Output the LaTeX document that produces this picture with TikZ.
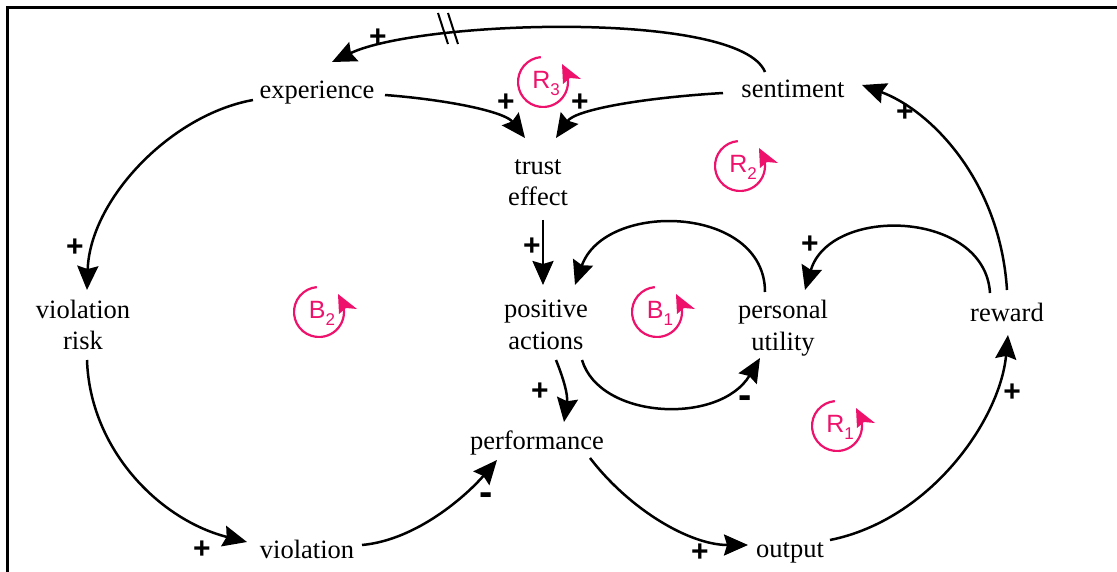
\documentclass[tikz,border=0pt]{standalone}
\usepackage{fontspec}
\setmainfont{Liberation Serif}
\newfontfamily\signfont{Liberation Sans}
\usetikzlibrary{arrows.meta}
\definecolor{looppink}{RGB}{238,18,108}

% loop marker: name, centre, letter, index
\newcommand\fbloop[4]{%
  \coordinate (#1) at #2;
  \node[looplabel] (#1-text) at ([shift={(3,-1)}]#1)
    {#3\raisebox{-7pt}{\fontsize{17}{17}\selectfont #4}};
  \draw[loopline] ([shift={(95:25)}]#1) arc[start angle=95,end angle=368,radius=25];
  \fill[looppink] ([shift={(19,18)}]#1) -- ([shift={(38,3)}]#1) -- ([shift={(27,4)}]#1)
    -- ([shift={(20,-2)}]#1) -- cycle;
}

\begin{document}
\begin{tikzpicture}[x=1pt,y=1pt,
  var/.style={font=\fontsize{26.5}{31.5}\selectfont, align=center, inner sep=0pt},
  link/.style={line width=2.5pt, -{Stealth[length=24pt,width=21pt,inset=3pt]}},
  sign/.style={font=\signfont\bfseries\fontsize{30}{30}\selectfont, inner sep=0pt},
  minus/.style={font=\signfont\bfseries\fontsize{40}{40}\selectfont, inner sep=0pt},
  loopline/.style={looppink, line width=2.2pt},
  looplabel/.style={looppink, font=\signfont\fontsize{25}{25}\selectfont, inner sep=0pt},
  delay/.style={line width=2pt}]

\useasboundingbox (0,0) rectangle (1117,-572);
\draw[line width=2.5pt] (7.5,-572) -- (7.5,-7.5) -- (1117,-7.5);

% variables
\node[var] (exp)    at (317,-93)    {experience};
\node[var] (sent)   at (793,-89)    {sentiment};
\node[var] (trust)  at (538,-182.5) {trust\\effect};
\node[var] (vrisk)  at (83,-325)    {violation\\risk};
\node[var] (pos)    at (546,-325)   {positive\\actions};
\node[var] (util)   at (783,-328)   {personal\\utility};
\node[var] (reward) at (1007,-312)  {reward};
\node[var] (perf)   at (537,-443)   {performance};
\node[var] (viol)   at (307,-549)   {violation};
\node[var] (output) at (790,-553)   {output};

% causal links
\draw[link] ([shift={(-28,17)}]sent.center) .. controls +(-25,62) and +(88,42) .. ([shift={(15,31)}]exp.center);
\draw[link] ([shift={(68,-2)}]exp.center) .. controls +(65,-5) and +(-20,26) .. ([shift={(-13,44.5)}]trust.center);
\draw[link] ([shift={(-70,-4)}]sent.center) .. controls +(-83,-5) and +(19,28) .. ([shift={(18,44.5)}]trust.center);
\draw[link] ([shift={(5,-37.5)}]trust.center) -- ([shift={(-3,40)}]pos.center);
\draw[link] ([shift={(-64,-7)}]exp.center) .. controls +(-83,-15) and +(3,90) .. ([shift={(4,35)}]vrisk.center);
\draw[link] ([shift={(4,-35)}]vrisk.center) .. controls +(3,-90) and +(-87,22) .. ([shift={(-60,7)}]viol.center);
\draw[link] ([shift={(55,4)}]viol.center) .. controls +(55,5) and +(-30,-35) .. ([shift={(-40,-17)}]perf.center);
\draw[link] ([shift={(10,-35)}]pos.center) .. controls +(8,-20) and +(4,27) .. ([shift={(27,21)}]perf.center);
\draw[link] ([shift={(36,-35)}]pos.center) .. controls +(18,-60) and +(-40,-67) .. ([shift={(-23,-30)}]util.center);
\draw[link] ([shift={(-18,36)}]util.center) .. controls +(0,87) and +(30,85) .. ([shift={(29,40)}]pos.center);
\draw[link] ([shift={(-17,19)}]reward.center) .. controls +(-5,83) and +(25,85) .. ([shift={(22,38)}]util.center);
\draw[link] ([shift={(0,22)}]reward.center) .. controls +(-7,110) and +(68,-25) .. ([shift={(69,4)}]sent.center);
\draw[link] ([shift={(53,-15)}]perf.center) .. controls +(40,-52) and +(-58,0) .. ([shift={(-42,8)}]output.center);
\draw[link] ([shift={(40,13)}]output.center) .. controls +(100,20) and +(-8,-85) .. ([shift={(1,-23)}]reward.center);

% delay mark
\draw[delay] (438,-13) -- (448,-44);
\draw[delay] (448,-13) -- (458,-44);

% polarities
\node[sign]  (s1)  at (378,-38)  {+};
\node[sign]  (s2)  at (506,-103) {+};
\node[sign]  (s3)  at (580,-103) {+};
\node[sign]  (s4)  at (532,-247) {+};
\node[sign]  (s5)  at (75,-248)  {+};
\node[sign]  (s6)  at (202,-550) {+};
\node[minus] (s7)  at (486,-499) {-};
\node[sign]  (s8)  at (540,-392) {+};
\node[minus] (s9)  at (745,-402) {-};
\node[sign]  (s10) at (810,-245) {+};
\node[sign]  (s11) at (905,-113) {+};
\node[sign]  (s12) at (700,-553) {+};
\node[sign]  (s13) at (1012,-393){+};

% loop identifiers
\fbloop{r3}{(543,-82)}{R}{3}
\fbloop{r2}{(740,-166)}{R}{2}
\fbloop{b2}{(319,-312)}{B}{2}
\fbloop{b1}{(657,-312)}{B}{1}
\fbloop{r1}{(837,-426)}{R}{1}
\end{tikzpicture}
\end{document}
